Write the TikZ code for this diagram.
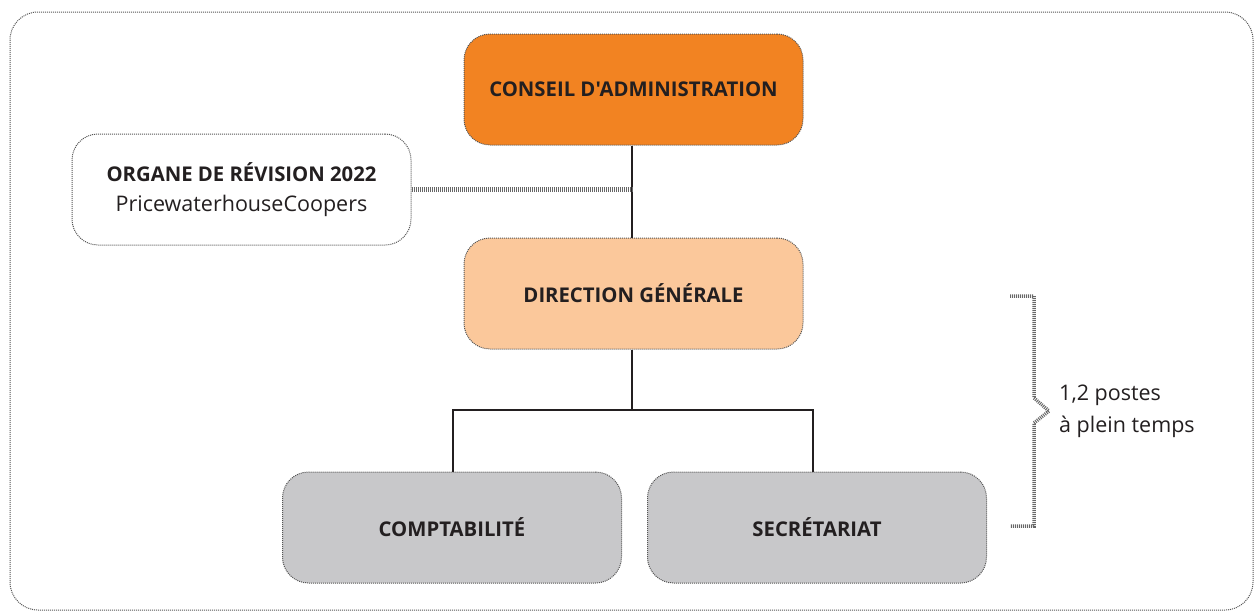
\documentclass[tikz,border=0pt]{standalone}
\usepackage{fontspec}
\setmainfont{Open Sans}[Ligatures=TeXOff]
\definecolor{txt}{HTML}{231F20}
\definecolor{orangeA}{HTML}{F28322}
\definecolor{orangeB}{HTML}{FBC89B}
\definecolor{greyA}{HTML}{C8C8CA}
\definecolor{borderc}{HTML}{555555}
\tikzset{
  dotline/.style={draw=borderc, line width=1pt, dash pattern=on 1pt off 1pt},
  orgbox/.style={dotline, rounded corners=26pt, minimum width=339pt, minimum height=111pt, inner sep=0pt, text=txt, font=\fontsize{20.3}{30}\selectfont\bfseries, align=center},
  conn/.style={draw=txt, line width=2pt},
  hatch/.style={draw=gray!80!black, line width=4.5pt, dash pattern=on 1pt off 1pt},
  lbl/.style={text=txt, font=\fontsize{21.5}{32}\selectfont, align=left, anchor=west, inner sep=0pt}
}
\begin{document}
\begin{tikzpicture}[x=1pt,y=-1pt]
\useasboundingbox (0,0) rectangle (1255,613);
\draw[dotline, rounded corners=28pt] (10,12) rectangle (1253,610);
\node[orgbox, fill=orangeA] (ca) at (633.5,89.5) {CONSEIL D'ADMINISTRATION};
\node[orgbox, fill=white] (org) at (241.5,189.5) {ORGANE DE RÉVISION 2022\\{\fontsize{21.5}{30}\selectfont\mdseries PricewaterhouseCoopers}};
\node[orgbox, fill=orangeB] (dg) at (633.5,293.5) {DIRECTION GÉNÉRALE};
\node[orgbox, fill=greyA] (cpt) at (452,527.5) {COMPTABILITÉ};
\node[orgbox, fill=greyA] (sec) at (817,527.5) {SECRÉTARIAT};
\coordinate (split) at (632,410);
\draw[conn] (ca.south -| split) -- (dg.north -| split);
\draw[hatch] (org.east) -- (org.east -| split);
\draw[conn] (dg.south -| split) -- (split);
\draw[conn] (cpt.north -| 453,0) |- (split) -| (sec.north -| 813,0);
% brace
\draw[hatch, line width=3.5pt, line join=miter] (1010,296) -- (1034,296) -- (1034,398) -- (1049,411) -- (1034,423) -- (1034,526) -- (1010,526);
\node[lbl] (note) at (1059,411) {1,2 postes\\à plein temps};
\end{tikzpicture}
\end{document}
